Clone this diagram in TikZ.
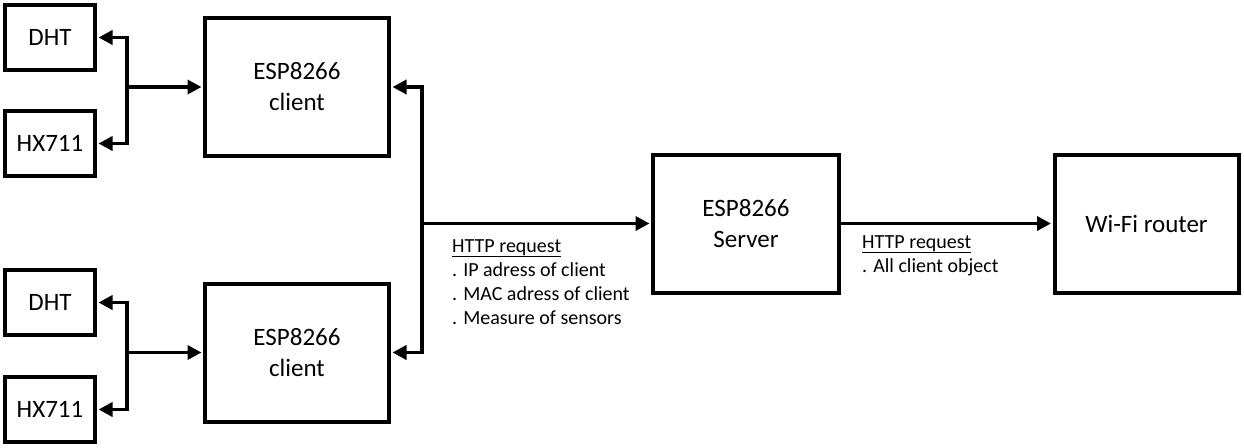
\documentclass[tikz,border=0pt]{standalone}
\usepackage{fontspec}
\setmainfont{Carlito}
\usetikzlibrary{arrows.meta,positioning}

\begin{document}
\begin{tikzpicture}[x=1pt,y=-1pt,
    blk/.style={draw, line width=4pt, align=center, inner sep=0pt, font=\fontsize{25}{31}\selectfont},
    sens/.style={blk, minimum width=90pt, minimum height=65pt},
    esp/.style={blk, minimum width=184pt, minimum height=138pt},
    arr/.style={line width=3.5pt, -{Triangle[length=14pt,width=14pt]}, shorten >=1.5pt},
    note/.style={align=left, anchor=north west, inner sep=0pt, font=\fontsize{20}{24}\selectfont}]
    \useasboundingbox (0,0) rectangle (1244,447);

    % clients and their sensors
    \node[sens] (dht1) at (50, 37.5) {DHT};
    \node[sens] (hx1) at (50, 143.5) {HX711};
    \node[esp] (c1) at (297, 87) {ESP8266\\client};

    \node[sens] (dht2) at (50, 302.5) {DHT};
    \node[sens] (hx2) at (50, 409.5) {HX711};
    \node[esp] (c2) at (297, 352.5) {ESP8266\\client};

    \node[esp, minimum width=186pt] (srv) at (746, 223.5) {ESP8266\\Server};
    \node[esp] (rtr) at (1146.5, 223.5) {Wi-Fi router};

    \coordinate (j1) at (127, 87);
    \coordinate (j2) at (127, 352.5);
    \coordinate (bus) at (422, 223.5);

    \draw[arr] (j1) -- (c1);
    \draw[arr] (j1) |- (dht1);
    \draw[arr] (j1) |- (hx1);
    \draw[arr] (j2) -- (c2);
    \draw[arr] (j2) |- (dht2);
    \draw[arr] (j2) |- (hx2);

    \draw[arr] (bus) |- (c1);
    \draw[arr] (bus) |- (c2);
    \draw[arr] (bus) -- (srv);
    \draw[arr] (srv) -- (rtr);

    \node[note] (req1) at (452, 239) {\underline{HTTP request}\\. IP adress of client\\. MAC adress of client\\. Measure of sensors};
    \node[note] (req2) at (862, 235) {\underline{HTTP request}\\. All client object};
\end{tikzpicture}
\end{document}
